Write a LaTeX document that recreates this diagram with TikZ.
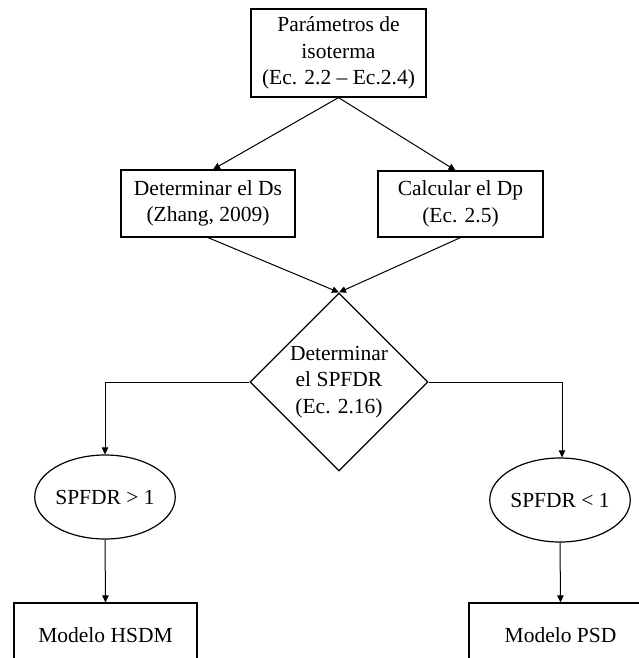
\documentclass[tikz,border=0pt]{standalone}
\usepackage{fontspec}
\setmainfont{Liberation Serif}
\usetikzlibrary{shapes.geometric,arrows.meta}

\tikzset{
  txt/.style={font=\fontsize{21.5pt}{26.5pt}\selectfont, align=center, inner sep=0pt},
  procbox/.style={txt, draw, line width=1.2pt, rectangle},
  decision/.style={draw, line width=1.2pt, diamond, inner sep=0pt, minimum width=178pt, minimum height=178pt},
  cond/.style={txt, draw, line width=1.2pt, ellipse, minimum width=124pt, minimum height=84pt},
  flow/.style={draw, line width=1pt, -{Triangle[length=7pt,width=6.5pt]}}
}

\begin{document}
\begin{tikzpicture}[x=1pt, y=-1pt]
  \clip (0,0) rectangle (639,658);
  \fill[white] (0,0) rectangle (639,658);

  % process boxes
  \node[procbox, minimum width=175pt, minimum height=88pt] (iso) at (338.5,53)
    {Parámetros de\\isoterma\\(Ec. 2.2 -- Ec.2.4)};
  \node[procbox, minimum width=174pt, minimum height=67pt] (ds) at (208,203.5)
    {Determinar el Ds\\(Zhang, 2009)};
  \node[procbox, minimum width=165pt, minimum height=66pt] (dp) at (460.5,204)
    {Calcular el Dp\\(Ec. 2.5)};

  % decision
  \node[decision, label={[txt]center:Determinar\\el SPFDR\\(Ec. 2.16)}] (spf) at (339,382) {};

  % conditions
  \node[cond] (gt) at (105,497) {SPFDR > 1};
  \node[cond] (lt) at (560,500) {SPFDR < 1};

  % resulting models
  \node[procbox, minimum width=183pt, minimum height=64pt] (hsdm) at (105.5,635) {Modelo HSDM};
  \node[procbox, minimum width=183pt, minimum height=64pt] (psd) at (560.5,635) {Modelo PSD};

  % connectors
  \draw[flow] (iso.south) -- ([xshift=5pt]ds.north);
  \draw[flow] (iso.south) -- ([xshift=-5pt]dp.north);
  \draw[flow] (ds.south) -- (spf.north);
  \draw[flow] (dp.south) -- (spf.north);
  \draw[flow] (spf.west) -| (gt.north);
  \draw[flow] (spf.east) -| ([xshift=2pt]lt.north);
  \draw[flow] (gt.south) -- (hsdm.north);
  \draw[flow] (lt.south) -- (psd.north);
\end{tikzpicture}
\end{document}
